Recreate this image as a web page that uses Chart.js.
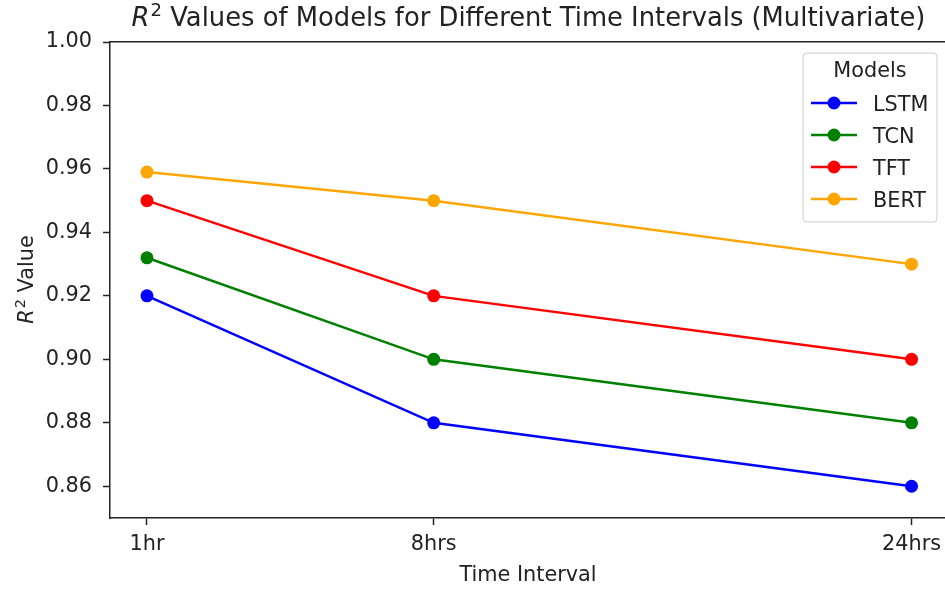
<!DOCTYPE html>
<html>
<head>
<meta charset="utf-8">
<title>R2 Values of Models</title>
<script src="https://cdn.jsdelivr.net/npm/chart.js@4.4.0/dist/chart.umd.min.js"></script>
<style>
  body { margin: 0; background: #fff; }
  #wrap { width: 945px; height: 590px; }
</style>
</head>
<body>
<div id="wrap"><canvas id="chart"></canvas></div>
<script>
// data
var intervals = ["1hr", "8hrs", "24hrs"];
var intervalPos = [0, 3, 8];   // where each interval sits on the x scale
var lstm = [0.92, 0.88, 0.86];
var tcn = [0.932, 0.90, 0.88];
var tft = [0.95, 0.92, 0.90];
var bert = [0.959, 0.95, 0.93];
var yTicks = [0.86, 0.88, 0.90, 0.92, 0.94, 0.96, 0.98, 1.00];
var models = ["LSTM", "TCN", "TFT", "BERT"];
var colors = ["#0000ff", "#008000", "#ff0000", "#ffa500"];

var FONT = "'DejaVu Sans', sans-serif";
var INK = "#222";
Chart.defaults.font.family = FONT;
Chart.defaults.color = INK;

function points(vals) {
  return intervalPos.map(function (x, i) { return { x: x, y: vals[i] }; });
}

var series = [lstm, tcn, tft, bert];
var datasets = series.map(function (vals, i) {
  return {
    label: models[i],
    data: points(vals),
    borderColor: colors[i],
    backgroundColor: colors[i],
    pointBackgroundColor: colors[i],
    pointBorderWidth: 0,
    pointRadius: 6.5,
    pointHoverRadius: 6.5,
    borderWidth: 2.5,
    tension: 0,
    clip: false
  };
});

// "R^2 ..." label with italic R and raised 2, centred on x
function mathLabel(ctx, rest, size, x, y) {
  ctx.textAlign = "left";
  ctx.textBaseline = "alphabetic";
  ctx.font = "italic " + size + "px " + FONT;
  var wR = ctx.measureText("R").width;
  ctx.font = (size * 0.7) + "px " + FONT;
  var w2 = ctx.measureText("2").width;
  ctx.font = size + "px " + FONT;
  var wRest = ctx.measureText(rest).width;
  var x0 = x - (wR + w2 + wRest) / 2;
  ctx.font = "italic " + size + "px " + FONT;
  ctx.fillText("R", x0, y);
  ctx.font = (size * 0.7) + "px " + FONT;
  ctx.fillText("2", x0 + wR + 1, y - size * 0.38);
  ctx.font = size + "px " + FONT;
  ctx.fillText(rest, x0 + wR + w2 + 1, y);
}

var decorations = {
  id: "decorations",
  afterDraw: function (chart) {
    var ctx = chart.ctx;
    var area = chart.chartArea;
    var xScale = chart.scales.x;
    ctx.save();
    ctx.fillStyle = INK;

    // title
    mathLabel(ctx, " Values of Models for Different Time Intervals (Multivariate)", 25.8, 528, 26);

    // x tick labels
    ctx.font = "20.8px " + FONT;
    ctx.textAlign = "center";
    ctx.textBaseline = "alphabetic";
    intervalPos.forEach(function (v, i) {
      ctx.fillText(intervals[i], xScale.getPixelForValue(v), area.bottom + 32);
    });

    // x axis title
    ctx.fillText("Time Interval", 528, 581);

    // y axis title
    ctx.save();
    ctx.translate(33, (area.top + area.bottom) / 2);
    ctx.rotate(-Math.PI / 2);
    mathLabel(ctx, " Value", 20.8, 0, 0);
    ctx.restore();

    // legend
    var bx = area.right - 142, by = area.top + 11, bw = 134, bh = 169;
    ctx.beginPath();
    ctx.roundRect(bx, by, bw, bh, 4);
    ctx.fillStyle = "rgba(255,255,255,0.8)";
    ctx.fill();
    ctx.strokeStyle = "#cccccc";
    ctx.lineWidth = 1;
    ctx.stroke();

    ctx.fillStyle = INK;
    ctx.font = "20.8px " + FONT;
    ctx.textAlign = "center";
    ctx.fillText("Models", bx + bw / 2, by + 24);

    chart.data.datasets.forEach(function (ds, i) {
      var cy = by + 50 + i * 32;
      ctx.strokeStyle = ds.borderColor;
      ctx.lineWidth = 2.5;
      ctx.beginPath();
      ctx.moveTo(bx + 8, cy);
      ctx.lineTo(bx + 54, cy);
      ctx.stroke();
      ctx.fillStyle = ds.borderColor;
      ctx.beginPath();
      ctx.arc(bx + 31, cy, 6.5, 0, Math.PI * 2);
      ctx.fill();
      ctx.fillStyle = INK;
      ctx.textAlign = "left";
      ctx.fillText(ds.label, bx + 70, cy + 8);
    });
    ctx.restore();
  }
};

var xMin = -0.387, xMax = 8.35;

var chart = new Chart(document.getElementById("chart"), {
  type: "line",
  data: { datasets: datasets },
  options: {
    responsive: true,
    maintainAspectRatio: false,
    animation: false,
    layout: { autoPadding: false, padding: { top: 42, left: 0, right: 0, bottom: 0 } },
    plugins: {
      legend: { display: false },
      title: { display: false },
      tooltip: { enabled: false }
    },
    scales: {
      x: {
        type: "linear",
        position: "bottom",
        min: xMin,
        max: xMax,
        afterBuildTicks: function (scale) {
          scale.ticks = intervalPos.map(function (v) { return { value: v }; });
        },
        afterFit: function (scale) { scale.height = 72; },
        ticks: { display: false },
        grid: { display: true, drawOnChartArea: false, drawTicks: true, tickLength: 7, tickWidth: 1.5, tickColor: INK },
        border: { display: true, color: INK, width: 1.5 }
      },
      top: {
        type: "linear",
        position: "top",
        min: xMin,
        max: xMax,
        afterFit: function (scale) { scale.height = 0; },
        ticks: { display: false },
        grid: { display: false, drawTicks: false },
        border: { display: true, color: INK, width: 1.5 }
      },
      y: {
        min: 0.85,
        max: 1.0,
        afterBuildTicks: function (scale) {
          scale.ticks = yTicks.map(function (v) { return { value: v }; });
        },
        afterFit: function (scale) { scale.width = 110; },
        ticks: {
          font: { size: 20.8 },
          color: INK,
          padding: 11,
          callback: function (v) { return v.toFixed(2); }
        },
        grid: { display: true, drawOnChartArea: false, drawTicks: true, tickLength: 7, tickWidth: 1.5, tickColor: INK },
        border: { display: true, color: INK, width: 1.5 }
      }
    }
  },
  plugins: [decorations]
});
</script>
</body>
</html>
